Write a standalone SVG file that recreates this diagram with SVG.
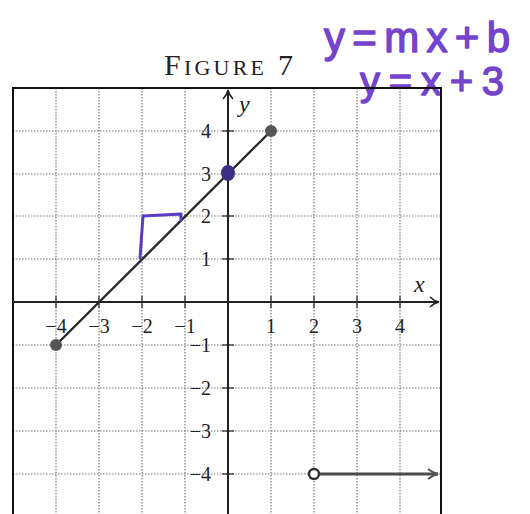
<svg xmlns="http://www.w3.org/2000/svg" width="530" height="514" viewBox="0 0 530 514">
  <style>
    .grid line { stroke: #7a7a7a; stroke-width: 1.2; stroke-dasharray: 1.5 1.5; }
    .lbl { font-family: "Liberation Serif", "DejaVu Serif", serif; font-size: 20px; fill: #222; }
    .xl { text-anchor: middle; }
    .yl { text-anchor: end; }
    .var { font-family: "Liberation Serif", "DejaVu Serif", serif; font-style: italic; font-size: 24px; fill: #222; }
    .hand { font-family: "Liberation Sans", "DejaVu Sans", sans-serif; fill: #7444cf; stroke: #7444cf; stroke-width: 1.4; stroke-linejoin: round; }
    .tick { stroke: #222; stroke-width: 1.2; }
  </style>
  <defs>
    <marker id="arr" markerWidth="12" markerHeight="12" refX="10" refY="6" orient="auto" markerUnits="userSpaceOnUse">
      <path d="M1,1 Q5,5 10,6 Q5,7 1,11" fill="none" stroke="#222" stroke-width="1.6"/>
    </marker>
    <marker id="arr2" markerWidth="14" markerHeight="12" refX="11" refY="6" orient="auto" markerUnits="userSpaceOnUse">
      <path d="M1,1 Q6,5 11,6 Q6,7 1,11" fill="none" stroke="#555" stroke-width="1.8"/>
    </marker>
  </defs>
  <rect width="530" height="514" fill="#fff"/>

  <g id="title">
    <text x="164" y="75" font-family="Liberation Serif, DejaVu Serif, serif" font-size="30" fill="#222" textLength="129" lengthAdjust="spacing">F<tspan font-size="22">IGURE</tspan> 7</text>
  </g>

  <g id="handwriting">
    <text class="hand" x="324" y="52" font-size="42" textLength="186" lengthAdjust="spacing">y=mx+b</text>
    <text class="hand" x="360" y="95" font-size="40" textLength="144" lengthAdjust="spacing">y=x+3</text>
  </g>

  <g id="grid" class="grid">
    <line x1="56" y1="88" x2="56" y2="514"/>
    <line x1="99" y1="88" x2="99" y2="514"/>
    <line x1="142" y1="88" x2="142" y2="514"/>
    <line x1="185" y1="88" x2="185" y2="514"/>
    <line x1="271" y1="88" x2="271" y2="514"/>
    <line x1="314" y1="88" x2="314" y2="514"/>
    <line x1="357" y1="88" x2="357" y2="514"/>
    <line x1="400" y1="88" x2="400" y2="514"/>
    <line x1="13" y1="131" x2="441" y2="131"/>
    <line x1="13" y1="174" x2="441" y2="174"/>
    <line x1="13" y1="216" x2="441" y2="216"/>
    <line x1="13" y1="259" x2="441" y2="259"/>
    <line x1="13" y1="345" x2="441" y2="345"/>
    <line x1="13" y1="388" x2="441" y2="388"/>
    <line x1="13" y1="431" x2="441" y2="431"/>
    <line x1="13" y1="474" x2="441" y2="474"/>
  </g>

  <g id="frame">
    <rect x="13" y="88" width="428" height="440" fill="none" stroke="#111" stroke-width="2"/>
  </g>

  <g id="connectors">
    <line id="x-axis" x1="13" y1="302" x2="439" y2="302" stroke="#222" stroke-width="2" marker-end="url(#arr)"/>
    <line id="y-axis" x1="228" y1="514" x2="228" y2="90" stroke="#222" stroke-width="2" marker-end="url(#arr)"/>
    <g class="tick">
      <line x1="222" y1="131" x2="234" y2="131"/>
      <line x1="222" y1="174" x2="234" y2="174"/>
      <line x1="222" y1="216" x2="234" y2="216"/>
      <line x1="222" y1="259" x2="234" y2="259"/>
      <line x1="222" y1="345" x2="234" y2="345"/>
      <line x1="222" y1="388" x2="234" y2="388"/>
      <line x1="222" y1="431" x2="234" y2="431"/>
      <line x1="222" y1="474" x2="234" y2="474"/>
      <line x1="56" y1="296" x2="56" y2="308"/>
      <line x1="99" y1="296" x2="99" y2="308"/>
      <line x1="142" y1="296" x2="142" y2="308"/>
      <line x1="185" y1="296" x2="185" y2="308"/>
      <line x1="271" y1="296" x2="271" y2="308"/>
      <line x1="314" y1="296" x2="314" y2="308"/>
      <line x1="357" y1="296" x2="357" y2="308"/>
      <line x1="400" y1="296" x2="400" y2="308"/>
    </g>
    <line id="graph-line" x1="56" y1="345" x2="271" y2="131" stroke="#2a2a2a" stroke-width="2.4"/>
    <line id="ray" x1="319" y1="474" x2="438" y2="474" stroke="#4a4a4a" stroke-width="2.8" marker-end="url(#arr2)"/>
    <polyline id="slope-mark" points="140,258 143,216 181,214 181,220" fill="none" stroke="#5a3bc2" stroke-width="3" stroke-linejoin="round" stroke-linecap="round"/>
  </g>

  <g id="points">
    <circle id="p-left" cx="56" cy="345" r="6" fill="#555"/>
    <circle id="p-right" cx="271" cy="131" r="6" fill="#555"/>
    <ellipse id="p-intercept" cx="228" cy="173" rx="7" ry="8" fill="#3b2e84"/>
    <circle id="p-open" cx="314" cy="474" r="5" fill="#fff" stroke="#333" stroke-width="2.4"/>
  </g>

  <g id="labels">
    <text class="var" x="239" y="112">y</text>
    <text class="var" x="414" y="292">x</text>
    <text class="lbl xl" x="56" y="333">−4</text>
    <text class="lbl xl" x="99" y="333">−3</text>
    <text class="lbl xl" x="142" y="333">−2</text>
    <text class="lbl xl" x="185" y="333">−1</text>
    <text class="lbl xl" x="271" y="333">1</text>
    <text class="lbl xl" x="314" y="333">2</text>
    <text class="lbl xl" x="357" y="333">3</text>
    <text class="lbl xl" x="400" y="333">4</text>
    <text class="lbl yl" x="211" y="138">4</text>
    <text class="lbl yl" x="211" y="181">3</text>
    <text class="lbl yl" x="211" y="223">2</text>
    <text class="lbl yl" x="211" y="266">1</text>
    <text class="lbl yl" x="211" y="352">−1</text>
    <text class="lbl yl" x="211" y="395">−2</text>
    <text class="lbl yl" x="211" y="438">−3</text>
    <text class="lbl yl" x="211" y="481">−4</text>
  </g>
</svg>
